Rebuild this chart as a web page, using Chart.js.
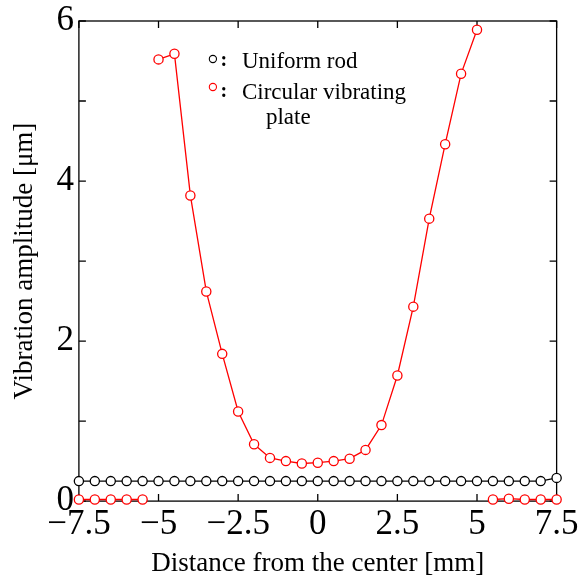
<!DOCTYPE html>
<html>
<head>
<meta charset="utf-8">
<script src="https://cdn.jsdelivr.net/npm/chart.js@4.4.1/dist/chart.umd.min.js"></script>
<style>
  html, body { margin: 0; padding: 0; background: #fff; }
  #wrap { width: 581px; height: 583px; }
</style>
</head>
<body>
<div id="wrap"><canvas id="chart"></canvas></div>
<script>
// positions along the sample [mm]
var positions = [-7.5, -7, -6.5, -6, -5.5, -5, -4.5, -4, -3.5, -3, -2.5, -2, -1.5, -1, -0.5,
    0, 0.5, 1, 1.5, 2, 2.5, 3, 3.5, 4, 4.5, 5, 5.5, 6, 6.5, 7, 7.5];

// vibration amplitude [um]
var rodAmplitude = [0.25, 0.25, 0.25, 0.25, 0.25, 0.25, 0.25, 0.25, 0.25, 0.25, 0.25, 0.25, 0.25, 0.25, 0.25,
    0.25, 0.25, 0.25, 0.25, 0.25, 0.25, 0.25, 0.25, 0.25, 0.25, 0.25, 0.25, 0.25, 0.25, 0.25, 0.29];
var plateAmplitude = [0.02, 0.02, 0.02, 0.02, 0.02, 5.52, 5.59, 3.82, 2.62, 1.84, 1.12, 0.71, 0.54, 0.50, 0.47,
    0.48, 0.50, 0.53, 0.64, 0.95, 1.57, 2.43, 3.53, 4.46, 5.34, 5.89, 0.02, 0.03, 0.02, 0.02, 0.02];

// plate line is not drawn between these x and the next point
var plateBreaks = [-5.5, 5];

var xTicks = [-7.5, -5, -2.5, 0, 2.5, 5, 7.5];
var yTicks = [0, 1, 2, 3, 4, 5, 6];
var yLabels = [0, 2, 4, 6];

var seriesNames = ['Uniform rod', 'Circular vibrating', 'plate'];

var serif = '"Liberation Serif", "DejaVu Serif", serif';

function toPoints(values) {
    return positions.map(function(x, i) { return { x: x, y: values[i] }; });
}

function fmt(v) {
    return v < 0 ? '\u2212' + Math.abs(v) : String(v);
}

// frame + inward ticks on all four sides
var framePlugin = {
    id: 'frame',
    beforeDatasetsDraw: function(chart) {
        var ctx = chart.ctx;
        var a = chart.chartArea;
        var x = chart.scales.x, y = chart.scales.y;
        var len = 7;
        ctx.save();
        ctx.strokeStyle = '#000';
        ctx.lineWidth = 1.3;
        ctx.strokeRect(a.left, a.top, a.right - a.left, a.bottom - a.top);
        ctx.beginPath();
        xTicks.forEach(function(v) {
            var px = x.getPixelForValue(v);
            ctx.moveTo(px, a.bottom); ctx.lineTo(px, a.bottom - len);
            ctx.moveTo(px, a.top); ctx.lineTo(px, a.top + len);
        });
        yTicks.forEach(function(v) {
            var py = y.getPixelForValue(v);
            ctx.moveTo(a.left, py); ctx.lineTo(a.left + len, py);
            ctx.moveTo(a.right, py); ctx.lineTo(a.right - len, py);
        });
        ctx.stroke();
        ctx.restore();
    }
};

// the legend sits inside the plot, drawn by hand
var keyPlugin = {
    id: 'key',
    afterDraw: function(chart) {
        var ctx = chart.ctx;
        var a = chart.chartArea;
        var cx = a.left + 134;
        ctx.save();
        ctx.lineWidth = 1.1;
        ctx.fillStyle = '#fff';
        ctx.strokeStyle = '#000';
        ctx.beginPath(); ctx.arc(cx, a.top + 38, 3.6, 0, Math.PI * 2); ctx.fill(); ctx.stroke();
        ctx.strokeStyle = '#ff0000';
        ctx.beginPath(); ctx.arc(cx, a.top + 66, 3.6, 0, Math.PI * 2); ctx.fill(); ctx.stroke();

        ctx.fillStyle = '#000';
        ctx.font = 'bold 20px ' + serif;
        ctx.textBaseline = 'alphabetic';
        ctx.textAlign = 'center';
        ctx.fillText(':', cx + 11, a.top + 45);
        ctx.fillText(':', cx + 11, a.top + 76);

        ctx.textAlign = 'left';
        ctx.font = '23px ' + serif;
        ctx.fillText(seriesNames[0], cx + 29, a.top + 46.5);
        ctx.fillText(seriesNames[1], cx + 29, a.top + 77.5);
        ctx.fillText(seriesNames[2], cx + 53, a.top + 103);
        ctx.restore();
    }
};

var ctx = document.getElementById('chart').getContext('2d');
var chart = new Chart(ctx, {
    type: 'scatter',
    data: {
        datasets: [
            {
                label: seriesNames[0],
                data: toPoints(rodAmplitude),
                showLine: true,
                borderColor: '#000',
                borderWidth: 1.3,
                pointRadius: 4.6,
                pointBorderWidth: 1.3,
                pointBackgroundColor: '#fff',
                pointBorderColor: '#000',
                clip: false
            },
            {
                label: seriesNames[1] + ' ' + seriesNames[2],
                data: toPoints(plateAmplitude),
                showLine: true,
                borderColor: '#ff0000',
                borderWidth: 1.3,
                pointRadius: 4.6,
                pointBorderWidth: 1.3,
                pointBackgroundColor: '#fff',
                pointBorderColor: '#ff0000',
                clip: false,
                segment: {
                    borderColor: function(c) {
                        return plateBreaks.indexOf(c.p0.parsed.x) >= 0 ? 'rgba(0,0,0,0)' : '#ff0000';
                    }
                }
            }
        ]
    },
    options: {
        responsive: true,
        maintainAspectRatio: false,
        animation: false,
        layout: { padding: { top: 0, right: 21, bottom: 2.5, left: 9 } },
        plugins: {
            legend: { display: false },
            tooltip: { enabled: false }
        },
        scales: {
            x: {
                type: 'linear',
                min: -7.5,
                max: 7.5,
                afterBuildTicks: function(scale) {
                    scale.ticks = xTicks.map(function(v) { return { value: v }; });
                },
                grid: { display: false, drawTicks: false },
                border: { display: false },
                ticks: {
                    color: '#000',
                    font: { family: serif, size: 35 },
                    padding: 2.5,
                    maxRotation: 0,
                    autoSkip: false,
                    callback: function(v) { return fmt(v); }
                },
                title: {
                    display: true,
                    text: 'Distance from the center [mm]',
                    color: '#000',
                    font: { family: serif, size: 27 },
                    padding: { top: 0, bottom: 0 }
                }
            },
            y: {
                min: 0,
                max: 6,
                afterBuildTicks: function(scale) {
                    scale.ticks = yTicks.map(function(v) { return { value: v }; });
                },
                grid: { display: false, drawTicks: true, tickLength: 5 },
                border: { display: false },
                ticks: {
                    color: '#000',
                    font: { family: serif, size: 35 },
                    padding: 0,
                    autoSkip: false,
                    callback: function(v) { return yLabels.indexOf(v) >= 0 ? fmt(v) : ''; }
                },
                title: {
                    display: true,
                    text: 'Vibration amplitude [\u03bcm]',
                    color: '#000',
                    font: { family: serif, size: 27 },
                    padding: { top: 0, bottom: 15 }
                }
            }
        }
    },
    plugins: [framePlugin, keyPlugin]
});
</script>
</body>
</html>
